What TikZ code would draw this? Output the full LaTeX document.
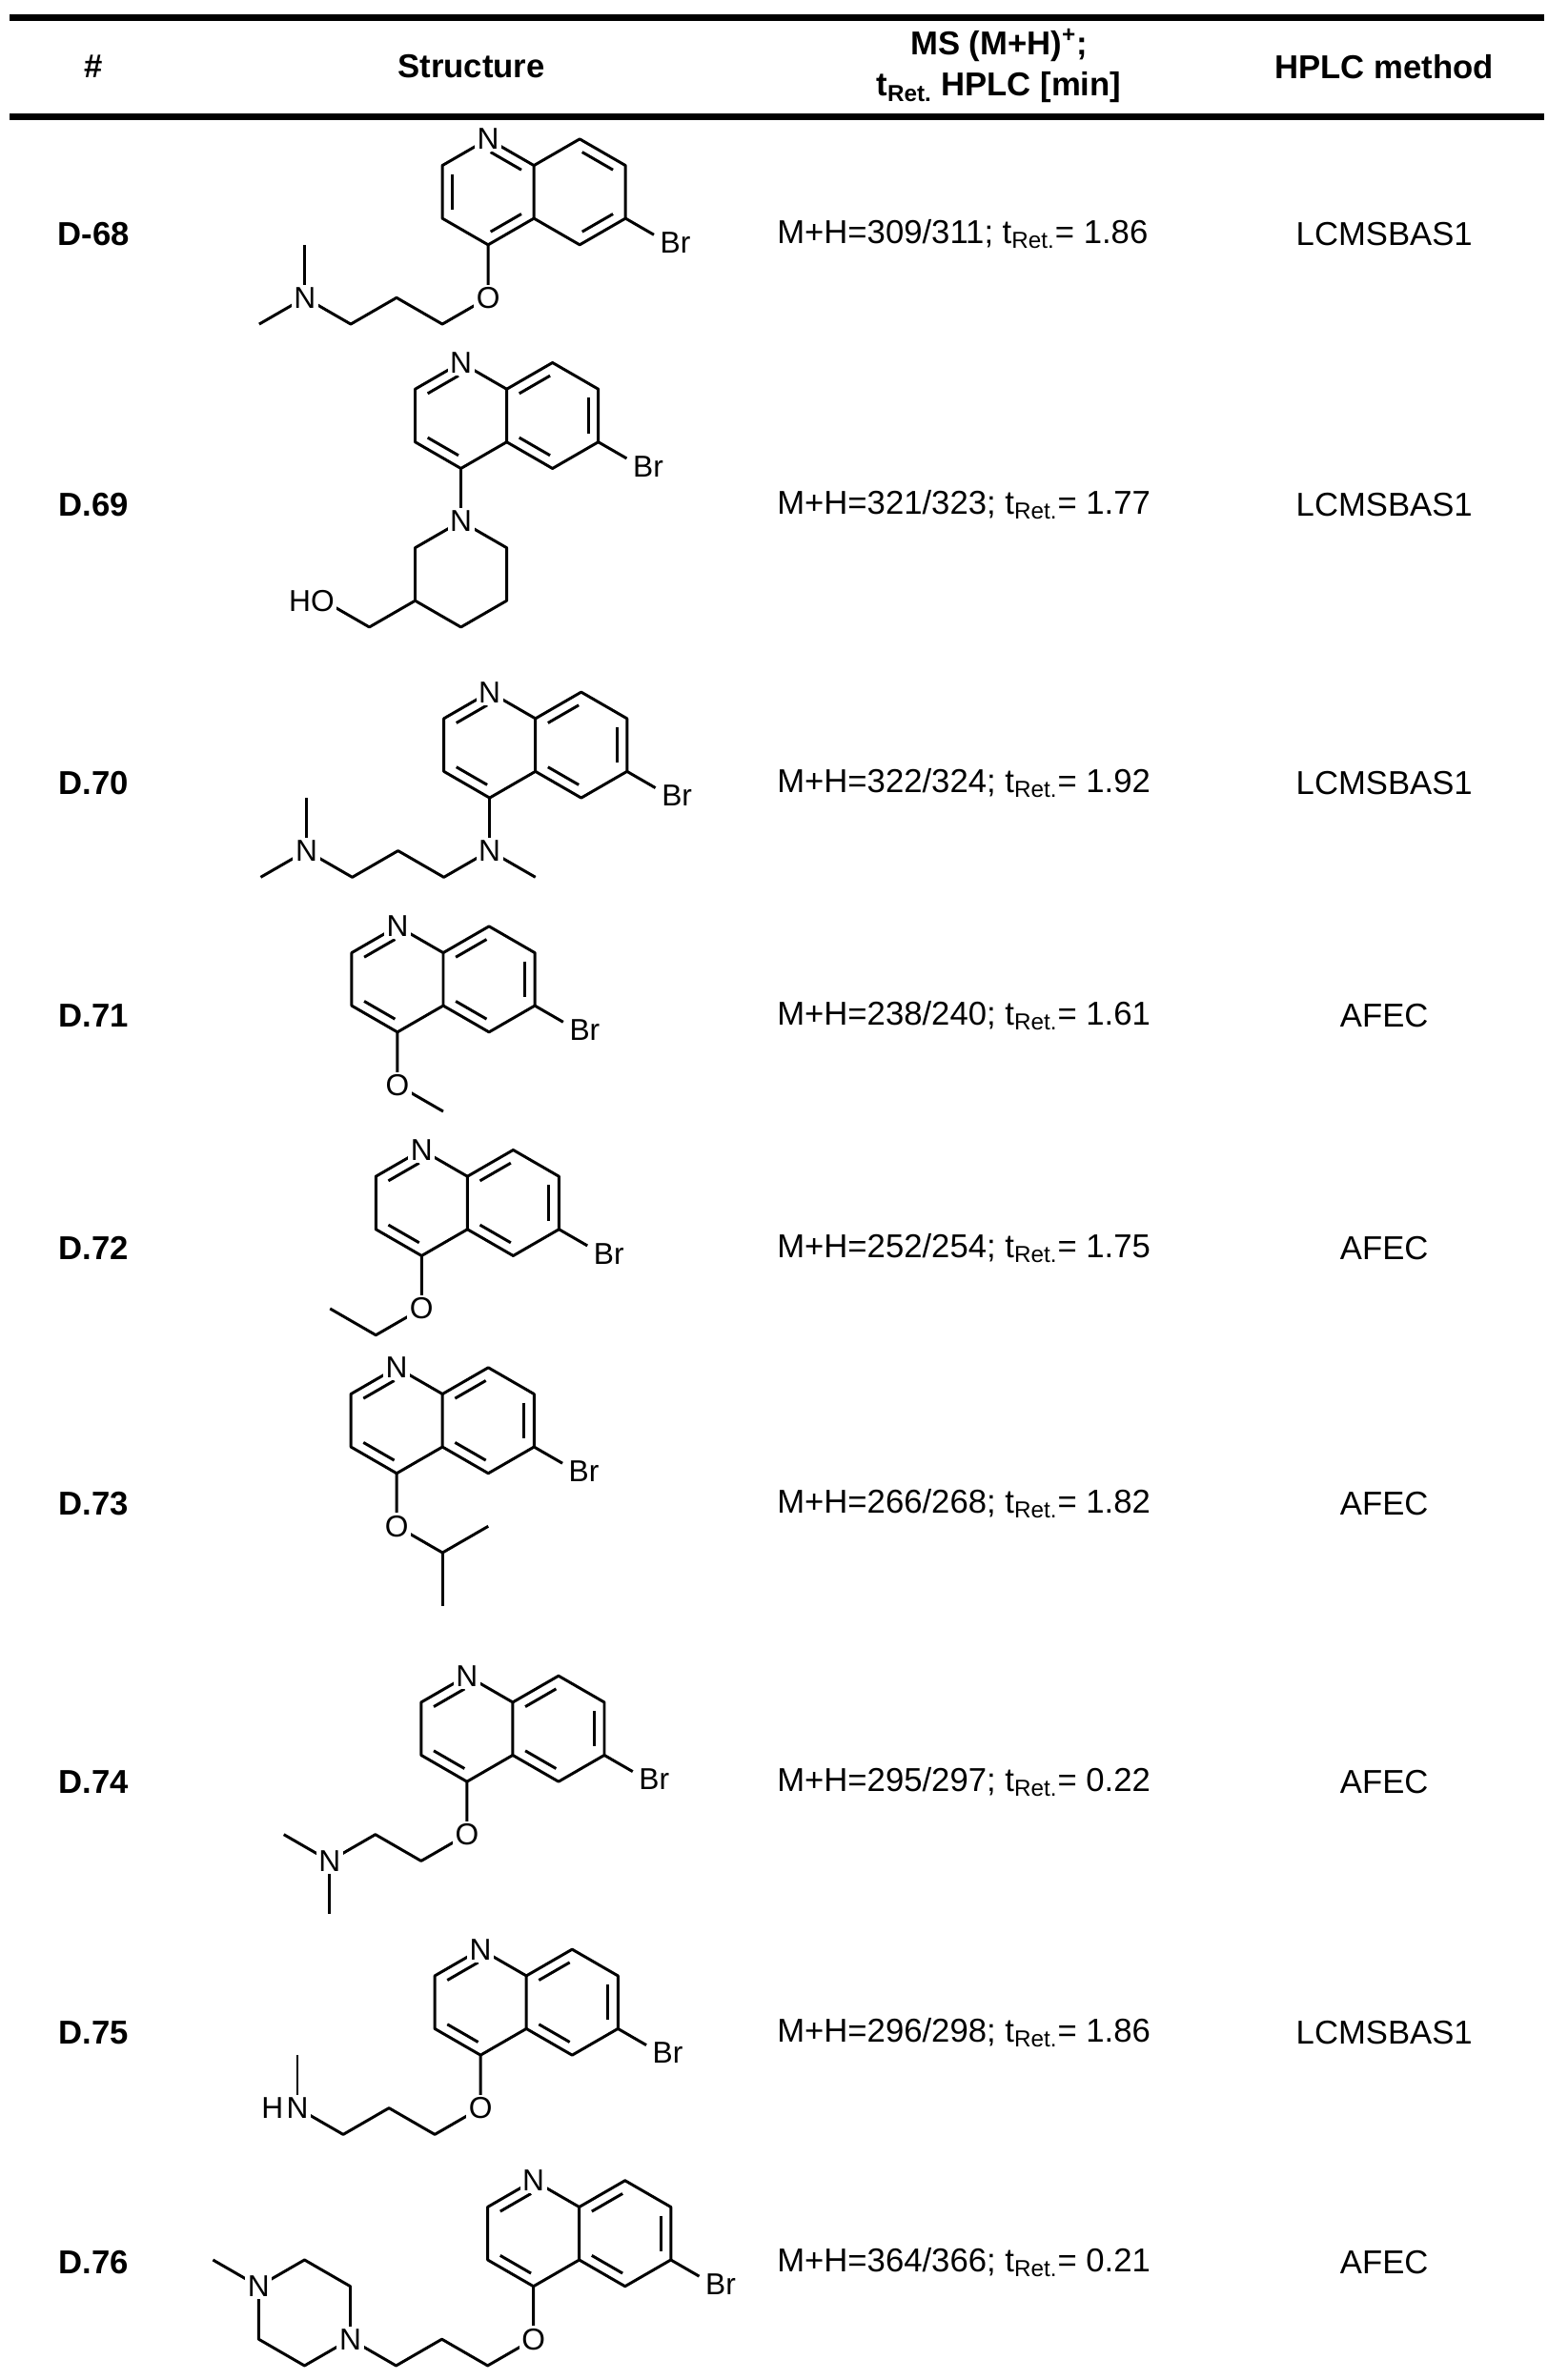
\documentclass[tikz,border=0pt]{standalone}
\usepackage{fontspec}
\setmainfont{Liberation Sans}
\usetikzlibrary{calc}
\def\bondl{35}
\def\hw{30.3}
\tikzset{
 bond/.style={line width=1.5pt},
 atom/.style={fill=white,inner sep=1.3pt,font=\fontsize{16}{18}\selectfont},
 txt/.style={font=\fontsize{17.5}{20}\selectfont,inner sep=0pt},
 hdr/.style={font=\fontsize{17.5}{20}\selectfont\bfseries,inner sep=0pt,align=center},
 rule/.style={line width=3.5pt}
}
\newcommand{\dbl}[3]{\draw[bond,shorten <=1.5pt,shorten >=1.5pt] ($(#1)!0.22!(#3)$) -- ($(#2)!0.22!(#3)$);}
\newcommand{\quinbase}{%
 \coordinate (C4) at (0,0);
 \coordinate (C4a) at (\hw,-0.5*\bondl);
 \coordinate (C8a) at (\hw,-1.5*\bondl);
 \coordinate (N1) at (0,-2*\bondl);
 \coordinate (C2) at (-\hw,-1.5*\bondl);
 \coordinate (C3) at (-\hw,-0.5*\bondl);
 \coordinate (C5) at (2*\hw,0);
 \coordinate (C6) at (3*\hw,-0.5*\bondl);
 \coordinate (C7) at (3*\hw,-1.5*\bondl);
 \coordinate (C8) at (2*\hw,-2*\bondl);
 \coordinate (cL) at (0,-\bondl);
 \coordinate (cR) at (2*\hw,-\bondl);
 \coordinate (BrB) at ($(C6)+(0.62*\hw,0.31*\bondl)$);
 \draw[bond,line join=round] (C4)--(C4a)--(C8a)--(N1)--(C2)--(C3)--cycle;
 \draw[bond,line join=round] (C4a)--(C5)--(C6)--(C7)--(C8)--(C8a);
 \draw[bond] (C6)--(BrB);
 \node[atom,fill=none] (Br) at ($(C6)+(33,16)$) {Br};
}
\newcommand{\quinA}{\quinbase
 \dbl{N1}{C2}{cL}\dbl{C3}{C4}{cL}\dbl{C8a}{C8}{cR}\dbl{C7}{C6}{cR}\dbl{C5}{C4a}{cR}
 \node[atom] (NN) at (N1) {N};}
\newcommand{\quinB}{\quinbase
 \dbl{C2}{C3}{cL}\dbl{N1}{C8a}{cL}\dbl{C4}{C4a}{cL}\dbl{C8}{C7}{cR}\dbl{C6}{C5}{cR}
 \node[atom] (NN) at (N1) {N};}
\begin{document}
\begin{tikzpicture}[x=0.8pt,y=-0.8pt]
\useasboundingbox (0,0) rectangle (1024,1575);
% rules
\coordinate (r1a) at (6.5,11.5); \coordinate (r1b) at (1022,11.5);
\coordinate (r2a) at (6.5,77); \coordinate (r2b) at (1022,77);
\draw[rule] (r1a)--(r1b);
\draw[rule] (r2a)--(r2b);
% header
\node[hdr] (h1) at (62,44) {\#};
\node[hdr] (h2) at (312,44) {Structure};
\node[hdr] (h3) at (661,30) {MS (M+H)\textsuperscript{+};};
\node[hdr] (h3b) at (661,58) {t\textsubscript{Ret.} HPLC [min]};
\node[hdr] (h4) at (916,44) {HPLC method};
% row labels and data
\foreach \y/\lab/\ms/\t/\meth [count=\i] in {
 155/D-68/309\slash 311/1.86/LCMSBAS1,
 334/D.69/321\slash 323/1.77/LCMSBAS1,
 518/D.70/322\slash 324/1.92/LCMSBAS1,
 672/D.71/238\slash 240/1.61/AFEC,
 826/D.72/252\slash 254/1.75/AFEC,
 995/D.73/266\slash 268/1.82/AFEC,
 1179/D.74/295\slash 297/0.22/AFEC,
 1345/D.75/296\slash 298/1.86/LCMSBAS1,
 1497/D.76/364\slash 366/0.21/AFEC}{
 \node[hdr] (id\i) at (62,\y) {\lab};
 \node[txt,anchor=west] (ms\i) at (514,\y) {M+H=\ms; t\textsubscript{Ret.}= \t};
 \node[txt] (me\i) at (916,\y) {\meth};
}
% D-68
\begin{scope}[shift={(323,162)}]
 \quinB
 \coordinate (O) at (0,\bondl);
 \coordinate (Na) at (-4*\hw,\bondl);
 \draw[bond,line join=round] (C4)--(O)--(-\hw,1.5*\bondl)--(-2*\hw,\bondl)--(-3*\hw,1.5*\bondl)--(Na);
 \draw[bond] (Na)--(-4*\hw,0);
 \draw[bond] (Na)--(-5*\hw,1.5*\bondl);
 \node[atom] at (O) {O}; \node[atom] at (Na) {N};
\end{scope}
% D.69
\begin{scope}[shift={(305,310)}]
 \quinA
 \coordinate (Np) at (0,\bondl);
 \coordinate (P5) at (-\hw,2.5*\bondl);
 \coordinate (HO) at (-3*\hw,2.5*\bondl);
 \draw[bond,line join=round] (Np)--(\hw,1.5*\bondl)--(\hw,2.5*\bondl)--(0,3*\bondl)--(P5)--(-\hw,1.5*\bondl)--cycle;
 \draw[bond] (C4)--(Np);
 \draw[bond,line join=round] (P5)--(-2*\hw,3*\bondl)--(HO);
 \node[atom] at (Np) {N};
 \node[atom,anchor=east] at ($(HO)+(9,0)$) {HO};
\end{scope}
% D.70
\begin{scope}[shift={(324,528)}]
 \quinA
 \coordinate (Na) at (0,\bondl);
 \coordinate (Nb) at (-4*\hw,\bondl);
 \draw[bond] (C4)--(Na);
 \draw[bond] (Na)--(\hw,1.5*\bondl);
 \draw[bond,line join=round] (Na)--(-\hw,1.5*\bondl)--(-2*\hw,\bondl)--(-3*\hw,1.5*\bondl)--(Nb);
 \draw[bond] (Nb)--(-4*\hw,0);
 \draw[bond] (Nb)--(-5*\hw,1.5*\bondl);
 \node[atom] at (Na) {N}; \node[atom] at (Nb) {N};
\end{scope}
% D.71
\begin{scope}[shift={(263,683)}]
 \quinA
 \coordinate (O) at (0,\bondl);
 \draw[bond] (C4)--(O)--(\hw,1.5*\bondl);
 \node[atom] at (O) {O};
\end{scope}
% D.72
\begin{scope}[shift={(279,831)}]
 \quinA
 \coordinate (O) at (0,\bondl);
 \draw[bond,line join=round] (C4)--(O)--(-\hw,1.5*\bondl)--(-2*\hw,\bondl);
 \node[atom] at (O) {O};
\end{scope}
% D.73
\begin{scope}[shift={(262.5,975)}]
 \quinA
 \coordinate (O) at (0,\bondl);
 \coordinate (CH) at (\hw,1.5*\bondl);
 \draw[bond,line join=round] (C4)--(O)--(CH)--(2*\hw,\bondl);
 \draw[bond] (CH)--(\hw,2.5*\bondl);
 \node[atom] at (O) {O};
\end{scope}
% D.74
\begin{scope}[shift={(309,1179)}]
 \quinA
 \coordinate (O) at (0,\bondl);
 \coordinate (Na) at (-3*\hw,1.5*\bondl);
 \draw[bond,line join=round] (C4)--(O)--(-\hw,1.5*\bondl)--(-2*\hw,\bondl)--(Na);
 \draw[bond] (Na)--(-4*\hw,\bondl);
 \draw[bond] (Na)--(-3*\hw,2.5*\bondl);
 \node[atom] at (O) {O}; \node[atom] at (Na) {N};
\end{scope}
% D.75
\begin{scope}[shift={(318,1360)}]
 \quinA
 \coordinate (O) at (0,\bondl);
 \coordinate (Na) at (-4*\hw,\bondl);
 \draw[bond,line join=round] (C4)--(O)--(-\hw,1.5*\bondl)--(-2*\hw,\bondl)--(-3*\hw,1.5*\bondl)--(Na);
 \draw[bond] (Na)--(-4*\hw,0);
 \node[atom] at (O) {O};
 \node[atom] (nn) at (Na) {N};
 \node[atom,anchor=east,inner xsep=0pt] at (nn.west) {H};
\end{scope}
% D.76
\begin{scope}[shift={(353,1513)}]
 \quinA
 \coordinate (O) at (0,\bondl);
 \coordinate (N4) at (-4*\hw,\bondl);
 \coordinate (Q1) at ($(N4)+(0,-\bondl)$);
 \coordinate (Q2) at ($(N4)+(-\hw,-1.5*\bondl)$);
 \coordinate (Nq) at ($(N4)+(-2*\hw,-\bondl)$);
 \coordinate (Q3) at ($(N4)+(-2*\hw,0)$);
 \coordinate (Q4) at ($(N4)+(-\hw,0.5*\bondl)$);
 \draw[bond,line join=round] (C4)--(O)--(-\hw,1.5*\bondl)--(-2*\hw,\bondl)--(-3*\hw,1.5*\bondl)--(N4);
 \draw[bond,line join=round] (N4)--(Q1)--(Q2)--(Nq)--(Q3)--(Q4)--cycle;
 \draw[bond] (Nq)--($(Nq)+(-\hw,-0.5*\bondl)$);
 \node[atom] at (O) {O}; \node[atom] at (N4) {N}; \node[atom] at (Nq) {N};
\end{scope}
\end{tikzpicture}
\end{document}
